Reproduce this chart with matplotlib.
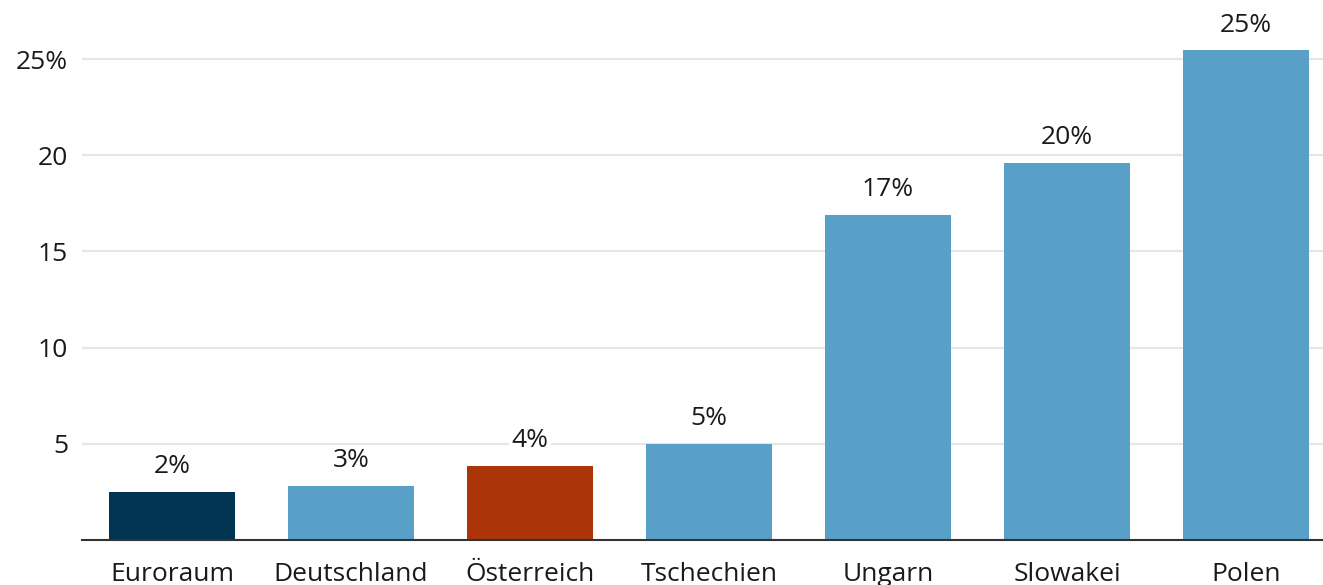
import matplotlib
matplotlib.use("Agg")
import matplotlib.pyplot as plt

plt.rcParams["font.family"] = ["Open Sans", "DejaVu Sans"]

countries = ["Euroraum", "Deutschland", "Österreich", "Tschechien", "Ungarn", "Slowakei", "Polen"]
values = [2.5, 2.8, 3.85, 5.0, 16.9, 19.6, 25.45]
value_labels = ["2%", "3%", "4%", "5%", "17%", "20%", "25%"]
bar_colors = ["#023554", "#59a0c8", "#ab3508", "#59a0c8", "#59a0c8", "#59a0c8", "#59a0c8"]
y_ticks = [5, 10, 15, 20, 25]
y_tick_labels = ["5", "10", "15", "20", "25%"]

fig = plt.figure(figsize=(13.23, 5.85), dpi=100)
ax = fig.add_axes([0.062, 0.0769, 0.938, 0.9231])

x = list(range(len(countries)))
ax.bar(x, values, width=0.704, color=bar_colors, zorder=2)

for xi, v, lab in zip(x, values, value_labels):
    ax.annotate(lab, (xi, v), xytext=(0, 13.5), textcoords="offset points",
                ha="center", va="baseline", fontsize=19, color="#1a1a1a",
                bbox=dict(boxstyle="square,pad=0.1", fc="white", ec="none"),
                zorder=3, annotation_clip=False)

ax.set_xlim(-0.503, 6.43)
ax.set_ylim(0, 28.07)
ax.set_xticks(x)
ax.set_xticklabels(countries)
ax.set_yticks(y_ticks)
ax.set_yticklabels(y_tick_labels)
ax.tick_params(axis="x", length=0, pad=15.5, labelsize=19, labelcolor="#1a1a1a")
ax.tick_params(axis="y", length=0, pad=10, labelsize=19, labelcolor="#1a1a1a")
ax.grid(axis="y", color="#e6e6e6", linewidth=1.5, zorder=0)
ax.set_axisbelow(True)

for side in ["left", "right", "top"]:
    ax.spines[side].set_visible(False)
ax.spines["bottom"].set_color("#333333")
ax.spines["bottom"].set_linewidth(1.5)
ax.spines["bottom"].set_zorder(4)

fig.savefig("out.png", dpi=100)
